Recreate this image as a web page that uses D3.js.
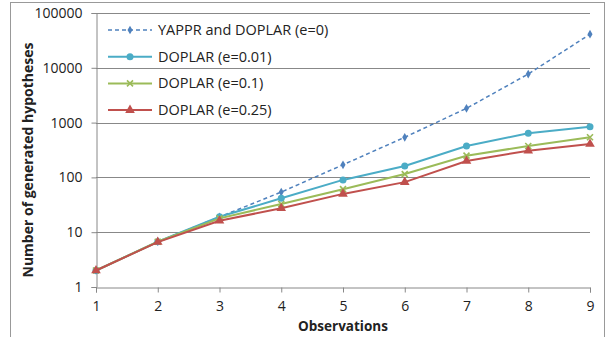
<!DOCTYPE html>
<html>
<head>
<meta charset="utf-8">
<title>Generated hypotheses</title>
<style>
  body { margin: 0; background: white; }
  svg text { font-family: "Open Sans", "Noto Sans", sans-serif; fill: #222; }
</style>
</head>
<body>
<div id="chart"></div>
<script src="https://d3js.org/d3.v7.min.js"></script>
<script>
// data
var observations = [1, 2, 3, 4, 5, 6, 7, 8, 9];
var seriesNames = ["YAPPR and DOPLAR (e=0)", "DOPLAR (e=0.01)", "DOPLAR (e=0.1)", "DOPLAR (e=0.25)"];
var yapprE0   = [2, 6.7, 19, 54, 170, 540, 1820, 7700, 41000];
var doplarE001 = [2, 6.7, 19.2, 41.5, 90, 161, 374, 638, 840];
var doplarE01  = [2, 6.7, 17.9, 32.7, 61, 115, 249, 374, 540];
var doplarE025 = [2, 6.6, 16.2, 27.3, 50, 82, 199, 307, 407];
var yTicks = [1, 10, 100, 1000, 10000, 100000];

var colors = ["#4f81bd", "#4bacc6", "#9bbb59", "#c0504d"];
var markers = ["diamond", "circle", "cross", "triangle"];
var allSeries = [yapprE0, doplarE001, doplarE01, doplarE025];

var width = 608, height = 337;
var margin = {top: 13, right: 18, bottom: 50, left: 96};

var svg = d3.select("#chart").append("svg")
    .attr("width", width).attr("height", height);

// outer chart frame
svg.append("rect")
    .attr("x", 10.5).attr("y", 2.5)
    .attr("width", 594).attr("height", 345)
    .attr("fill", "none").attr("stroke", "#999");

var x = d3.scaleLinear().domain([1, 9]).range([margin.left, width - margin.right]);
var y = d3.scaleLog().domain([1, 100000]).range([height - margin.bottom, margin.top]);

// grid lines
svg.append("g").selectAll("line").data(yTicks.slice(1)).enter().append("line")
    .attr("x1", x(1)).attr("x2", x(9))
    .attr("y1", function(d) { return Math.round(y(d)) + 0.5; })
    .attr("y2", function(d) { return Math.round(y(d)) + 0.5; })
    .attr("stroke", "#888").attr("stroke-width", 1);

var yAxis = d3.axisLeft(y).tickValues(yTicks).tickFormat(d3.format("d")).tickSize(5).tickPadding(9);
var gy = svg.append("g").attr("transform", "translate(" + (x(1) + 0.5) + ",0)").call(yAxis);
gy.selectAll("text").style("font-size", "14px");

var xAxis = d3.axisBottom(x).tickValues(observations).tickFormat(d3.format("d")).tickSize(5).tickPadding(9);
var gx = svg.append("g").attr("transform", "translate(0," + (Math.round(y(1)) + 0.5) + ")").call(xAxis);
gx.selectAll("text").style("font-size", "14px");

svg.selectAll(".domain, .tick line").attr("stroke", "#888");

// axis titles
svg.append("text")
    .attr("x", 343).attr("y", 331)
    .attr("text-anchor", "middle")
    .style("font-size", "13.5px").style("font-weight", "bold")
    .text("Observations");

svg.append("text")
    .attr("transform", "translate(33,160) rotate(-90)")
    .attr("text-anchor", "middle")
    .style("font-size", "14px").style("font-weight", "bold")
    .text("Number of generated hypotheses");

function drawMarker(g, type, color) {
    if (type == "diamond") {
        g.append("path").attr("d", d3.symbol().type(d3.symbolDiamond).size(22)).attr("fill", color);
    } else if (type == "circle") {
        g.append("circle").attr("r", 3.5).attr("fill", color);
    } else if (type == "cross") {
        g.append("path").attr("d", "M-3,-3L3,3M-3,3L3,-3")
            .attr("stroke", color).attr("stroke-width", 1.6).attr("fill", "none");
    } else {
        g.append("path").attr("d", d3.symbol().type(d3.symbolTriangle).size(40)).attr("fill", color);
    }
}

var line = d3.line()
    .x(function(d, i) { return x(observations[i]); })
    .y(function(d) { return y(d); });

// series in order, so the red one ends up on top like in the original
allSeries.forEach(function(vals, s) {
    svg.append("path")
        .attr("d", line(vals))
        .attr("fill", "none")
        .attr("stroke", colors[s])
        .attr("stroke-width", s == 0 ? 1.5 : 2)
        .attr("stroke-dasharray", s == 0 ? "4,3" : null);
    vals.forEach(function(v, i) {
        var g = svg.append("g").attr("transform", "translate(" + x(observations[i]) + "," + y(v) + ")");
        drawMarker(g, markers[s], colors[s]);
    });
});

// legend
var legend = svg.append("g").attr("transform", "translate(108,30)");
seriesNames.forEach(function(name, i) {
    var row = legend.append("g").attr("transform", "translate(0," + (i * 26.7) + ")");
    row.append("line").attr("x1", 0).attr("x2", 44).attr("y1", 0).attr("y2", 0)
        .attr("stroke", colors[i]).attr("stroke-width", i == 0 ? 1.5 : 2)
        .attr("stroke-dasharray", i == 0 ? "4,3" : null);
    var m = row.append("g").attr("transform", "translate(22,0)");
    drawMarker(m, markers[i], colors[i]);
    row.append("text").attr("x", 50).attr("y", 5)
        .style("font-size", "14.5px")
        .text(name);
});
</script>
</body>
</html>
